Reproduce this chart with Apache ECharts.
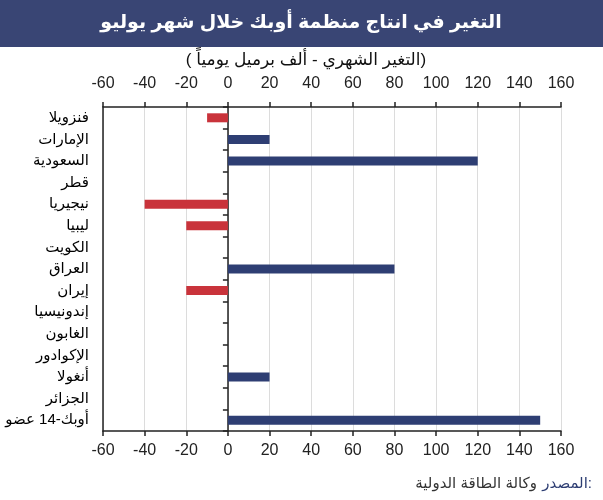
<!DOCTYPE html>
<html>
<head>
<meta charset="utf-8">
<script src="https://cdn.jsdelivr.net/npm/echarts@6/dist/echarts.min.js"></script>
<style>html,body{margin:0;padding:0;background:#fff;}#c{width:603px;height:500px;}</style>
</head>
<body>
<div id="c"></div>
<script>
const titleText = 'التغير في انتاج منظمة أوبك خلال شهر يوليو';
const subtitleText = '( التغير الشهري - ألف برميل يومياً)';
const sourceLabel = 'المصدر:';
const sourceText = 'وكالة الطاقة الدولية';
const categories = ['فنزويلا','الإمارات','السعودية','قطر','نيجيريا','ليبيا','الكويت','العراق','إيران','إندونيسيا','الغابون','الإكوادور','أنغولا','الجزائر','أوبك-14 عضو'];
const values = [-10, 20, 120, 0, -40, -20, 0, 80, -20, 0, 0, 0, 20, 0, 150];
const axisMin = -60, axisMax = 160, axisStep = 20;

const FONT = "'Liberation Sans', 'DejaVu Sans', Arial, sans-serif";
const chart = echarts.init(document.getElementById('c'), null, {renderer: 'canvas'});
const axisCommon = {
  type: 'value', min: axisMin, max: axisMax, interval: axisStep,
  axisLine: {show: true, onZero: false, lineStyle: {color: '#222', width: 1.5}},
  axisTick: {show: true, inside: false, length: 5, lineStyle: {color: '#222', width: 1.5}}
};
chart.setOption({
  animation: false,
  backgroundColor: '#fff',
  graphic: [
    {type: 'rect', shape: {x: 0, y: 0, width: 603, height: 47}, style: {fill: '#394574'}, silent: true},
    {type: 'text', x: 301, y: 23, style: {text: titleText, fill: '#fff', font: 'bold 19px ' + FONT, textAlign: 'center', textVerticalAlign: 'middle'}},
    {type: 'text', x: 306, y: 60, style: {text: subtitleText, fill: '#111', font: '17px ' + FONT, textAlign: 'center', textVerticalAlign: 'middle'}},
    {type: 'text', x: 592, y: 484, style: {text: sourceLabel, fill: '#2E3E73', font: '15px ' + FONT, textAlign: 'right', textVerticalAlign: 'middle'}},
    {type: 'text', x: 537, y: 484, style: {text: sourceText, fill: '#333', font: '15px ' + FONT, textAlign: 'right', textVerticalAlign: 'middle'}}
  ],
  grid: {left: 103, right: 42, top: 107, bottom: 69, containLabel: false},
  xAxis: [
    Object.assign({}, axisCommon, {position: 'top', splitLine: {show: true, lineStyle: {color: '#dcdcdc', width: 1}},
      axisLabel: {color: '#222', fontSize: 16, fontFamily: FONT, margin: 15}}),
    Object.assign({}, axisCommon, {position: 'bottom', splitLine: {show: false},
      axisLabel: {color: '#222', fontSize: 16, fontFamily: FONT, margin: 12}})
  ],
  yAxis: [
    {
      type: 'category', data: categories, inverse: true, position: 'left',
      axisLine: {show: true, onZero: true, lineStyle: {color: '#222', width: 1.5}},
      axisTick: {show: true, inside: false, length: 5, lineStyle: {color: '#222', width: 1.5}},
      axisLabel: {show: false}, splitLine: {show: false}
    },
    {
      type: 'category', data: categories, inverse: true, position: 'left', offset: 0,
      axisLine: {show: true, onZero: false, lineStyle: {color: '#222', width: 1.5}},
      axisTick: {show: false},
      axisLabel: {show: true, color: '#000', fontSize: 15, fontFamily: FONT, margin: 14},
      splitLine: {show: false}
    }
  ],
  series: [{
    type: 'bar', xAxisIndex: 0, yAxisIndex: 0, data: values, barWidth: 9,
    itemStyle: {color: function (p) { return p.value < 0 ? '#C9333B' : '#2E3E73'; }},
    silent: true
  }]
});
</script>
</body>
</html>
